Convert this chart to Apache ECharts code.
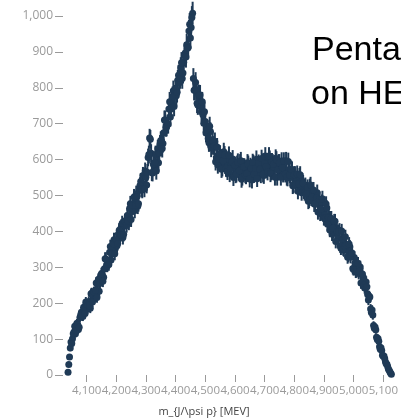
<!DOCTYPE html>
<html>
<head>
<meta charset="utf-8">
<script src="https://cdn.jsdelivr.net/npm/echarts@6/dist/echarts.min.js"></script>
<style>
  html, body { margin: 0; padding: 0; background: #fff; }
  #chart { width: 401px; height: 418px; }
</style>
</head>
<body>
<div id="chart"></div>
<script>
// J/psi p invariant mass spectrum, two interleaved sets of bin centres (MeV)
const massA = [
  4037,4042,4047,4052,4057,4062,4067,4072,4077,4082,4087,4092,4097,4102,4107,4112,4117,4122,4127,4132,
  4137,4142,4147,4152,4157,4162,4167,4172,4177,4182,4187,4192,4197,4202,4207,4212,4217,4222,4227,4232,
  4237,4242,4247,4252,4257,4262,4267,4272,4277,4282,4287,4292,4297,4302,4307,4312,4317,4322,4327,4332,
  4337,4342,4347,4352,4357,4362,4367,4372,4377,4382,4387,4392,4397,4402,4407,4412,4417,4422,4427,4432,
  4437,4442,4447,4452,4457,4462,4467,4472,4477,4482,4487,4492,4497,4502,4507,4512,4517,4522,4527,4532,
  4537,4542,4547,4552,4557,4562,4567,4572,4577,4582,4587,4592,4597,4602,4607,4612,4617,4622,4627,4632,
  4637,4642,4647,4652,4657,4662,4667,4672,4677,4682,4687,4692,4697,4702,4707,4712,4717,4722,4727,4732,
  4737,4742,4747,4752,4757,4762,4767,4772,4777,4782,4787,4792,4797,4802,4807,4812,4817,4822,4827,4832,
  4837,4842,4847,4852,4857,4862,4867,4872,4877,4882,4887,4892,4897,4902,4907,4912,4917,4922,4927,4932,
  4937,4942,4947,4952,4957,4962,4967,4972,4977,4982,4987,4992,4997,5002,5007,5012,5017,5022,5027,5032,
  5037,5042,5047,5052,5057,5062,5067,5072,5077,5082,5087,5092,5097,5102,5107,5112,5117,5122,5127
];
const countsA = [
  8,50,92,101,120,115,144,127,160,175,163,176,203,183,205,186,228,212,230,256,
  234,233,275,280,272,324,304,309,342,320,354,377,364,360,393,383,414,383,415,431,
  444,424,477,455,474,458,505,470,518,539,515,532,568,529,606,660,618,563,584,614,
  591,591,643,652,645,710,690,699,741,719,761,792,780,778,821,814,856,826,871,897,
  920,912,977,968,1008,793,815,757,781,780,733,725,733,674,684,647,678,639,640,650,
  606,585,615,604,577,622,584,575,600,561,587,602,575,558,587,565,591,545,572,579,
  555,591,564,581,543,589,572,601,563,582,558,593,556,610,572,586,601,566,591,578,
  604,551,591,569,596,560,574,597,549,571,550,571,529,558,544,512,553,525,539,513,
  527,515,484,524,493,510,476,487,508,485,450,481,448,447,476,420,437,436,393,399,
  428,401,383,403,353,377,348,385,347,332,357,338,297,327,287,300,283,301,257,273,
  242,259,224,220,184,181,138,134,105,102,79,76,55,53,37,30,17,9,2
];

const massB = [
  4039.5,4044.5,4049.5,4054.5,4059.5,4064.5,4069.5,4074.5,4079.5,4084.5,4089.5,4094.5,4099.5,4104.5,4109.5,4114.5,4119.5,4124.5,4129.5,4134.5,
  4139.5,4144.5,4149.5,4154.5,4159.5,4164.5,4169.5,4174.5,4179.5,4184.5,4189.5,4194.5,4199.5,4204.5,4209.5,4214.5,4219.5,4224.5,4229.5,4234.5,
  4239.5,4244.5,4249.5,4254.5,4259.5,4264.5,4269.5,4274.5,4279.5,4284.5,4289.5,4294.5,4299.5,4304.5,4309.5,4314.5,4319.5,4324.5,4329.5,4334.5,
  4339.5,4344.5,4349.5,4354.5,4359.5,4364.5,4369.5,4374.5,4379.5,4384.5,4389.5,4394.5,4399.5,4404.5,4409.5,4414.5,4419.5,4424.5,4429.5,4434.5,
  4439.5,4444.5,4449.5,4454.5,4459.5,4464.5,4469.5,4474.5,4479.5,4484.5,4489.5,4494.5,4499.5,4504.5,4509.5,4514.5,4519.5,4524.5,4529.5,4534.5,
  4539.5,4544.5,4549.5,4554.5,4559.5,4564.5,4569.5,4574.5,4579.5,4584.5,4589.5,4594.5,4599.5,4604.5,4609.5,4614.5,4619.5,4624.5,4629.5,4634.5,
  4639.5,4644.5,4649.5,4654.5,4659.5,4664.5,4669.5,4674.5,4679.5,4684.5,4689.5,4694.5,4699.5,4704.5,4709.5,4714.5,4719.5,4724.5,4729.5,4734.5,
  4739.5,4744.5,4749.5,4754.5,4759.5,4764.5,4769.5,4774.5,4779.5,4784.5,4789.5,4794.5,4799.5,4804.5,4809.5,4814.5,4819.5,4824.5,4829.5,4834.5,
  4839.5,4844.5,4849.5,4854.5,4859.5,4864.5,4869.5,4874.5,4879.5,4884.5,4889.5,4894.5,4899.5,4904.5,4909.5,4914.5,4919.5,4924.5,4929.5,4934.5,
  4939.5,4944.5,4949.5,4954.5,4959.5,4964.5,4969.5,4974.5,4979.5,4984.5,4989.5,4994.5,4999.5,5004.5,5009.5,5014.5,5019.5,5024.5,5029.5,5034.5,
  5039.5,5044.5,5049.5,5054.5,5059.5,5064.5,5069.5,5074.5,5079.5,5084.5,5089.5,5094.5,5099.5,5104.5,5109.5,5114.5,5119.5,5124.5
];
const countsB = [
  29,75,88,115,136,123,141,133,167,164,189,171,197,195,193,226,203,231,236,216,
  267,255,282,261,296,323,304,308,358,338,365,338,377,366,403,391,423,392,427,417,
  428,464,433,472,496,472,497,477,528,519,556,518,551,564,614,657,564,588,592,568,
  630,618,653,631,675,710,691,699,761,741,776,748,796,787,835,826,870,841,889,886,
  910,958,939,996,826,794,795,752,780,748,761,701,706,683,659,693,632,654,638,594,
  635,601,615,573,597,613,576,567,612,575,594,550,584,560,593,569,597,551,580,558,
  561,587,546,576,592,559,576,547,590,573,603,560,589,580,566,610,561,594,587,551,
  599,572,591,551,578,596,560,551,595,557,573,527,558,531,560,533,558,508,534,508,
  504,522,487,529,496,515,477,494,454,489,462,491,437,438,465,439,404,436,409,428,
  372,400,399,359,401,351,359,362,328,365,329,340,294,312,288,311,289,256,281,250,
  244,246,209,217,174,167,130,126,99,94,72,68,52,46,31,24,13,5
];

const xTicks = [4100,4200,4300,4400,4500,4600,4700,4800,4900,5000,5100];
const titleLines = ['Pentaquark candidates', 'on HEPData'];
const xTitle = 'm_{J/\\psi p} [MEV]';

const mass = massA.concat(massB);
const counts = countsA.concat(countsB);
const points = mass.map((m, i) => [m, counts[i]]);
// statistical (Poisson) uncertainty on each bin count
const errorBars = mass.map((m, i) => [m, counts[i] - Math.sqrt(counts[i]), counts[i] + Math.sqrt(counts[i])]);

const markColor = '#1f3a56';
const fmt = v => Number(v).toLocaleString('en-US');
const tickFont = { color: '#9a9a9a', fontFamily: 'Open Sans' };

const chart = echarts.init(document.getElementById('chart'), null, { renderer: 'canvas' });
chart.setOption({
  animation: false,
  backgroundColor: '#fff',
  grid: { left: 63, right: 5, top: 16, bottom: 43, containLabel: false },
  xAxis: {
    type: 'value',
    min: 4020,
    max: 5140,
    offset: 2,
    axisLine: { show: false },
    splitLine: { show: false },
    axisTick: { show: true, length: 7, lineStyle: { color: '#9a9a9a' }, customValues: xTicks },
    axisLabel: Object.assign({
      margin: 8, fontSize: 11.5, formatter: fmt, customValues: xTicks,
      showMinLabel: true, showMaxLabel: true, hideOverlap: false
    }, tickFont)
  },
  yAxis: {
    type: 'value',
    min: 0,
    max: 1000,
    interval: 100,
    axisLine: { show: false },
    splitLine: { show: false },
    axisTick: { show: true, length: 8, lineStyle: { color: '#9a9a9a' } },
    axisLabel: Object.assign({ margin: 10, fontSize: 12, formatter: fmt }, tickFont)
  },
  graphic: [
    { type: 'text', left: 312, top: 34, style: { text: titleLines[0], font: '34px "Liberation Sans"', fill: '#000' } },
    { type: 'text', left: 311, top: 78, style: { text: titleLines[1], font: '34px "Liberation Sans"', fill: '#000' } },
    { type: 'text', x: 204, y: 412, style: { text: xTitle, font: '11px "Open Sans"', fill: '#444', textAlign: 'center', textVerticalAlign: 'middle' } }
  ],
  series: [
    {
      type: 'custom',
      clip: false,
      data: errorBars,
      renderItem: (params, api) => {
        const lo = api.coord([api.value(0), api.value(1)]);
        const hi = api.coord([api.value(0), api.value(2)]);
        return {
          type: 'line',
          shape: { x1: lo[0], y1: lo[1], x2: hi[0], y2: hi[1] },
          style: { stroke: markColor, lineWidth: 2 }
        };
      }
    },
    {
      type: 'scatter',
      clip: false,
      data: points,
      symbolSize: 7,
      itemStyle: { color: markColor, opacity: 1 }
    }
  ]
});
</script>
</body>
</html>
